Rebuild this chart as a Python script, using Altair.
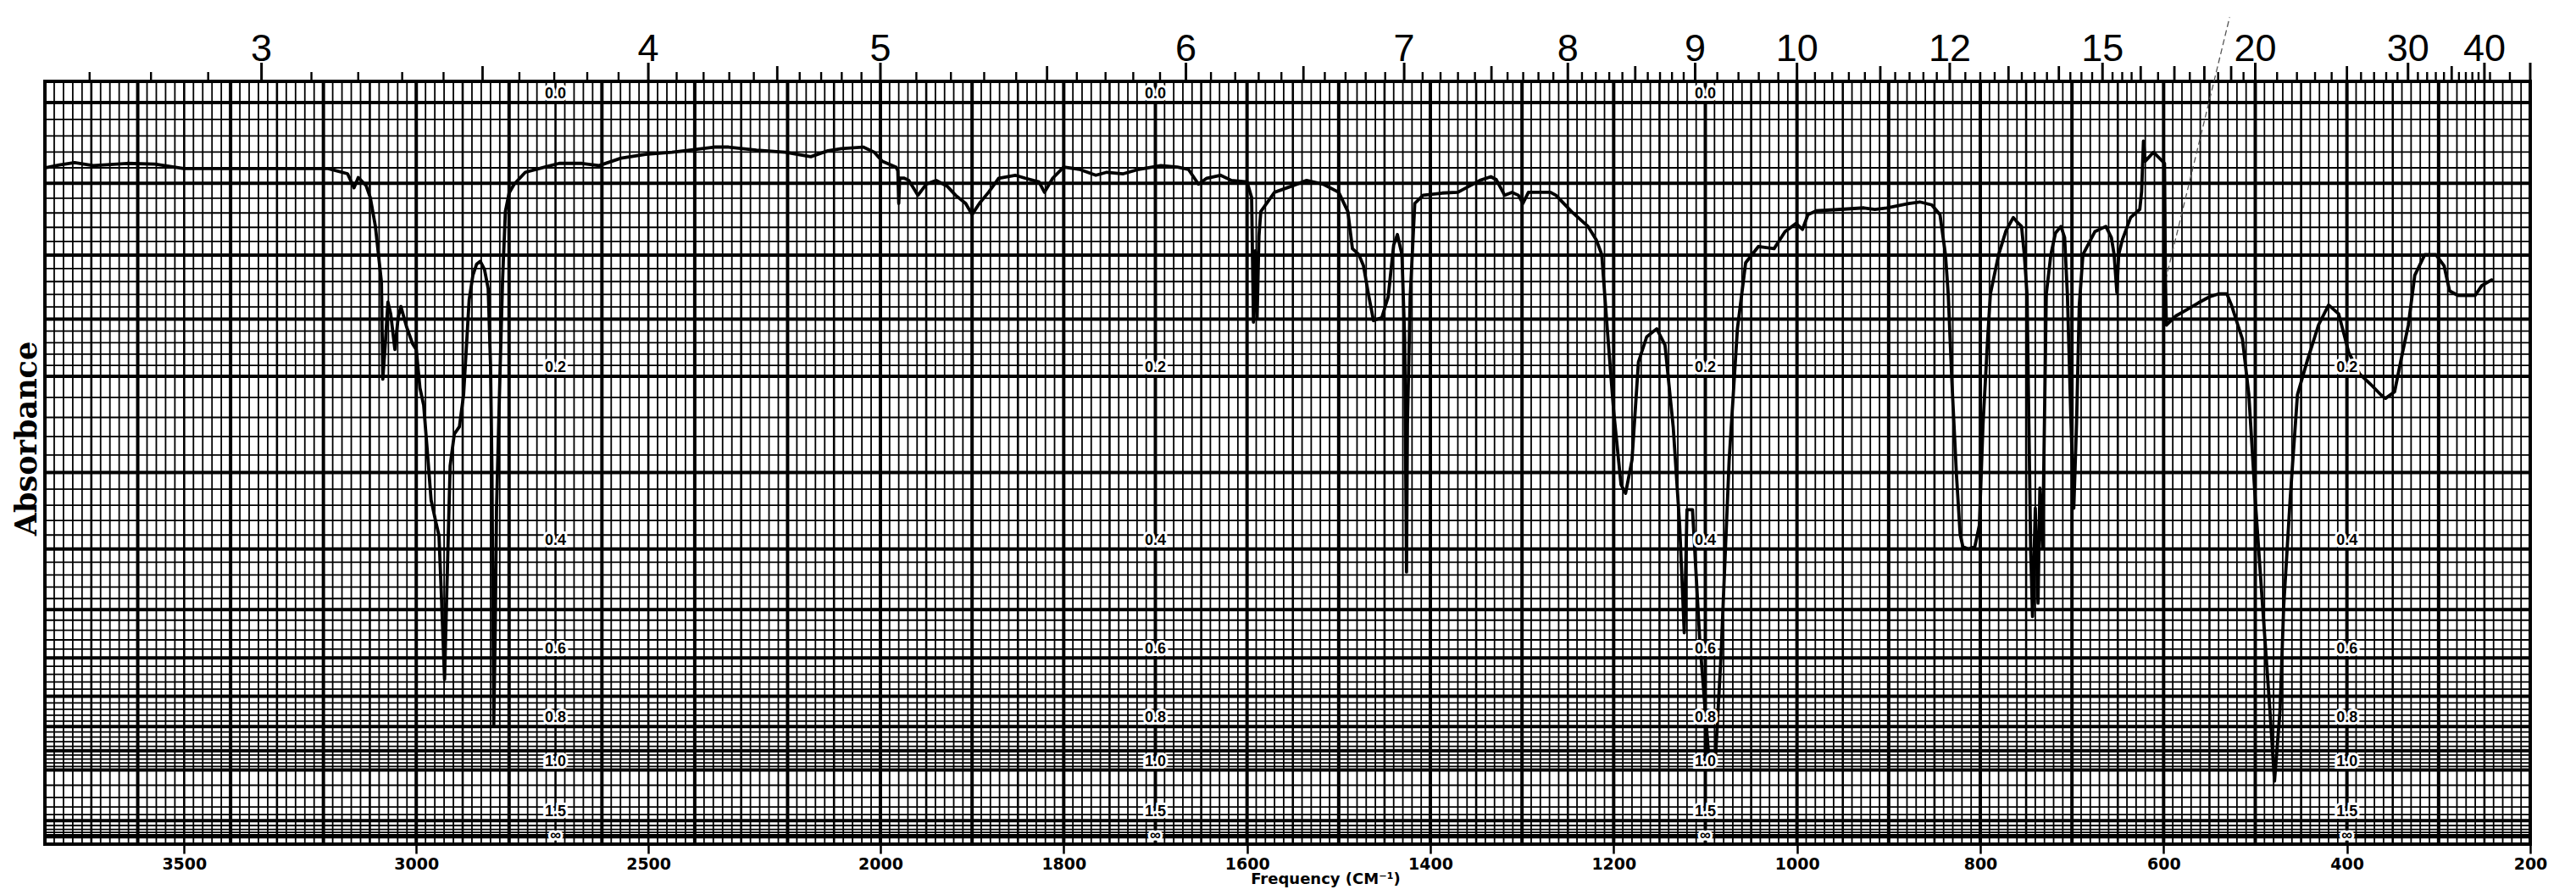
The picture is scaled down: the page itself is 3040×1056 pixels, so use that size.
import altair as alt
import numpy as np
import pandas as pd

# ---------------- spectrum (wavenumber cm-1, transmittance %) ----------------
wn1 = [3800,3769,3736,3696,3623,3563,3501,3349,3190,3148,3134,3125,3108,3099,3088,
       3075,3072,3066,3061,3055,3046,3039,3033,3021,3008,3000,2992,2984,2975,2968,
       2958,2951,2946,2939,2935,2927,2918,2907,2898,2886,2878,2870,2862,2853,2845,
       2840,2837,2833,2830,2827,2820,2814,2808,2800,2789,2765,2723,2692,2643,2606,
       2559,2509,2449,2358,2327,2267,2205,2150,2113,2084,2037,2013]
t1 = [91.2,91.6,91.9,91.5,91.8,91.7,91.1,91.1,91.1,90.4,88.5,89.9,88.8,87.2,83.3,
      75.8,62.7,68.1,73.1,71.5,66.7,71.0,72.5,69.8,67.5,66.7,61.5,59.2,52.1,46.4,
      43.5,41.6,33.8,22.2,32.0,51.0,55.3,56.3,60.6,73.4,76.7,78.2,78.6,77.5,74.9,
      64.7,51.0,16.0,28.1,45.3,62.4,76.1,85.3,87.8,89.0,90.6,91.3,91.8,91.8,91.5,
      92.5,93.0,93.3,94.0,94.0,93.6,93.3,92.7,93.5,93.8,94.0,93.3]

wn2 = [1998,1983,1981,1980,1979,1974,1969,1959,1950,1939,1927,1918,1907,1900,1892,
       1882,1871,1853,1842,1827,1821,1812,1800,1783,1765,1753,1735,1718,1694,1676,
       1664,1653,1644,1629,1617,1600,1595,1593,1591,1589,1587,1585,1570,1552,1535,
       1517,1500,1490,1485,1478,1473,1467,1462,1453,1446,1440,1436,1431,1428,1426,
       1425,1422,1417,1408,1387,1370,1358,1346,1334,1328,1319,1311,1304,1299,1293,
       1269,1263,1246,1228,1219,1213,1207,1200,1192,1187,1180,1173,1164,1153,1144,
       1135,1128,1123,1120,1114,1106,1096,1089,1083,1074,1065,1056,1042,1025,1013,
       1001]
t2 = [92.1,91.3,90.8,86.4,89.8,89.8,89.5,87.5,89.0,89.5,88.7,87.5,86.4,84.9,86.4,
      87.9,89.8,90.2,89.8,89.3,87.9,89.8,91.3,91.0,90.2,90.6,90.4,91.0,91.5,91.3,
      91.0,89.0,89.8,90.2,89.5,89.3,87.2,70.4,80.0,71.0,82.0,85.3,87.9,88.7,89.5,
      89.0,87.9,85.3,80.3,79.5,78.0,73.8,70.6,71.0,73.8,80.8,82.2,79.5,68.1,36.7,
      56.7,73.8,86.4,87.5,87.8,87.9,88.7,89.5,90.0,89.6,87.5,87.9,87.5,86.4,87.9,
      87.9,87.5,85.3,83.3,81.5,79.5,69.5,58.4,48.5,47.3,51.8,65.0,68.4,69.5,67.3,
      56.2,43.0,28.5,45.1,45.1,27.4,11.4,11.4,25.1,51.8,69.5,78.4,80.6,80.3,82.6,
      83.7]

wn3 = [994,988,979,952,927,915,902,878,866,853,844,838,835,831,826,
       822,819,813,806,801,797,792,789,780,772,764,760,755,752,749,
       747,745,743,740,737,735,732,728,723,718,712,708,705,701,698,
       695,692,688,675,663,657,654,651,649,645,636,626,624,622,620,
       611,599,598,597,587,577,562,550,540,531,526,519,514,507,500,
       492,484,479,473,469,462,454,443,431,420,409,398,386,374,363,
       358,348,341,333,326,315,303,294,288,279,260,253,242]
t3 = [82.9,84.9,85.4,85.6,85.8,85.6,85.8,86.4,86.6,86.2,84.9,79.5,74.2,62.4,49.8,
      41.8,40.1,39.8,40.1,43.0,56.7,68.1,74.2,79.5,82.7,84.5,83.9,83.3,79.5,74.2,
      56.7,39.5,30.7,45.3,32.5,48.0,40.0,74.2,79.5,82.4,83.3,81.8,74.2,56.7,45.3,
      56.7,72.7,79.5,82.6,83.3,81.8,79.5,74.4,79.5,81.5,84.5,85.6,88.0,94.8,92.1,
      93.3,91.8,76.1,70.0,71.2,71.9,73.0,73.8,74.2,74.2,72.7,70.0,68.1,60.6,46.4,
      32.1,18.0,8.5,18.0,32.0,46.4,60.6,65.3,70.0,72.7,71.5,66.3,63.4,62.0,60.6,
      60.1,61.0,65.3,70.0,76.7,79.5,79.5,78.0,74.6,74.0,74.0,75.3,76.1]

# pencil annotation line
pencil_wn = [598, 528]
pencil_t = [76.0, 111.5]

# ---------------- axis texts ----------------
top_um_labels = [3, 4, 5, 6, 7, 8, 9, 10, 12, 15, 20, 30, 40]
bottom_ticks = [3500, 3000, 2500, 2000, 1800, 1600, 1400, 1200, 1000, 800, 600, 400, 200]
abs_text = ["0.0", "0.2", "0.4", "0.6", "0.8", "1.0", "1.5", "\u221e"]
abs_value = [0.0, 0.2, 0.4, 0.6, 0.8, 1.0, 1.5, np.inf]
abs_columns = [2700, 1700, 1100, 400]

# ---------------- chart paper rulings ----------------
v_high_minor = [w for w in range(3780, 2000, -20) if w % 100 != 0]
v_high_medium = [w for w in range(3700, 2000, -200)]
v_high_major = [w for w in range(3600, 1999, -200)]
v_low_minor = [w for w in range(1990, 200, -10) if w % 50 != 0]
v_low_medium = [w for w in range(1950, 200, -100)]
v_low_major = [w for w in range(1900, 200, -100)]

h_minor = ([round(a, 2) for a in np.arange(0.01, 0.2, 0.01) if round(a * 100) % 5 != 0]
           + [round(a, 2) for a in np.arange(0.22, 1.0, 0.02) if round(a * 100) % 10 != 0]
           + [1.1, 1.2, 1.3, 1.4, 1.6, 1.7, 1.8, 1.9])
h_major = [0.0, 0.05, 0.1, 0.15, 0.2, 0.3, 0.4, 0.5, 0.6, 0.7, 0.8, 0.9, 1.0, 1.5, 2.0]

top_minor_um = ([round(u, 2) for u in np.arange(2.7, 9.0, 0.1) if round(u * 10) % 5 != 0]
                + [9.2, 9.4, 9.6, 9.8, 10.2, 10.4, 10.6, 10.8, 11.2, 11.4, 11.6, 11.8,
                   12.25, 12.5, 12.75, 13.25, 13.5, 13.75, 14.25, 14.5, 14.75,
                   15.25, 15.5, 15.75, 16.5, 17.5, 18.5, 19.5,
                   21, 22, 23, 24, 26, 27, 28, 29, 31, 32, 33, 34, 36, 37, 38, 39, 41, 45])
top_half_um = [3.5, 4.5, 5.5, 6.5, 7.5, 8.5, 11, 13, 14, 16, 17, 18, 19, 25, 35]
top_major_um = top_um_labels + [50]

# ---------------- geometry ----------------
W, H = 2933, 900
XB = 986
TMAX = 102.86

xs = alt.Scale(domain=[3800, 2000, 200], range=[0, XB, W], nice=False, zero=False)
ys = alt.Scale(domain=[0, TMAX], nice=False, zero=False)


def xenc():
    return alt.X('wn:Q', scale=xs, axis=None)


def yenc():
    return alt.Y('T:Q', scale=ys, axis=None)


def vrules(vals, w):
    return alt.Chart(pd.DataFrame({'wn': vals})).mark_rule(
        color='black', strokeWidth=w).encode(x=xenc())


def hrules(vals, w):
    return alt.Chart(pd.DataFrame({'A': vals})).transform_calculate(
        T='100*pow(10,-datum.A)').mark_rule(color='black', strokeWidth=w).encode(y=yenc())


def topticks(vals, length, w):
    return alt.Chart(pd.DataFrame({'um': vals})).transform_calculate(
        wn='10000/datum.um').mark_rule(color='black', strokeWidth=w).encode(
        x=xenc(), y=alt.value(0), y2=alt.value(-length))


# axis-carrying layer (no visible marks of its own)
axis_df = pd.DataFrame({'wn': [3800, 200], 'T': [0.0, TMAX]})
axis_layer = alt.Chart(axis_df).mark_point(opacity=0, size=1).encode(
    x=alt.X('wn:Q', scale=xs, axis=alt.Axis(
        orient='bottom', values=bottom_ticks, format='d', tickSize=11, tickWidth=2.5,
        tickColor='black', labelFont='DejaVu Sans', labelFontWeight='bold', labelFontSize=19,
        labelColor='black', labelPadding=3, labelFlush=False, labelOverlap=False,
        labelBound=False, domain=False, grid=False,
        title='Frequency (CM\u207b\u00b9)', titleFont='DejaVu Sans', titleFontSize=18,
        titleFontWeight='bold', titleColor='black', titleX=1511, titleY=41,
        titleBaseline='middle', titleAlign='center')),
    y=alt.Y('T:Q', scale=ys, axis=alt.Axis(
        orient='left', title='Absorbance', labels=False, ticks=False, domain=False,
        grid=False, titleFont='DejaVu Serif', titleFontSize=35, titleFontWeight='bold',
        titleColor='black', titleAngle=270, titleX=-11, titleY=421, titleAlign='center',
        titleBaseline='alphabetic')),
)

layers = [
    axis_layer,
    vrules(v_high_minor, 1.8), vrules(v_low_minor, 1.8),
    hrules(h_minor, 1.8),
    vrules(v_high_medium, 2.6), vrules(v_low_medium, 2.6),
    vrules(v_high_major, 4.0), vrules(v_low_major, 4.0),
    hrules(h_major, 4.0),
    topticks(top_minor_um, 11, 2.4),
    topticks(top_half_um, 18, 2.8),
    topticks(top_major_um, 22, 3.0),
]

top_labels = alt.Chart(pd.DataFrame({'um': top_um_labels,
                                     'lab': [str(u) for u in top_um_labels]})).transform_calculate(
    wn='10000/datum.um').mark_text(
    font='Liberation Sans Narrow, Liberation Sans', fontSize=45, color='black',
    baseline='alphabetic', align='center').encode(x=xenc(), y=alt.value(-24), text='lab:N')
layers.append(top_labels)

pencil = alt.Chart(pd.DataFrame({'wn': pencil_wn, 'T': pencil_t})).mark_line(
    color='#555555', strokeWidth=1.3, strokeDash=[7, 4]).encode(x=xenc(), y=yenc())
layers.append(pencil)

wn_all = wn1 + wn2 + wn3
t_all = t1 + t2 + t3
spec_df = pd.DataFrame({'wn': wn_all, 'T': t_all, 'i': list(range(len(wn_all)))})
spectrum = alt.Chart(spec_df).mark_line(
    color='black', strokeWidth=3.8, strokeJoin='round', strokeCap='round').encode(
    x=xenc(), y=yenc(), order='i:Q')
layers.append(spectrum)

rows = []
for c in abs_columns:
    for txt, a in zip(abs_text, abs_value):
        if c == 400 and txt == "0.0":
            continue
        T = 0.0 if np.isinf(a) else 100.0 * 10 ** (-a)
        rows.append({'wn': c, 'T': T, 'lab': txt})
lab_df = pd.DataFrame(rows)
halo = alt.Chart(lab_df).mark_text(
    font='Liberation Sans', fontWeight='bold', fontSize=18, baseline='middle', dy=-10,
    color='white', stroke='white', strokeWidth=6).encode(x=xenc(), y=yenc(), text='lab:N')
labs = alt.Chart(lab_df).mark_text(
    font='Liberation Sans', fontWeight='bold', fontSize=18, baseline='middle', dy=-10,
    color='black').encode(x=xenc(), y=yenc(), text='lab:N')
layers += [halo, labs]

chart = alt.layer(*layers).resolve_axis(x='independent', y='independent').properties(
    width=W, height=H,
    autosize=alt.AutoSizeParams(type='none'),
    padding={'left': 45, 'top': 88, 'right': 40, 'bottom': 52},
    background='white',
).configure_view(stroke='black', strokeWidth=4, fill='white')

chart.save("out.html", embed_options={"renderer": "svg", "actions": False})
